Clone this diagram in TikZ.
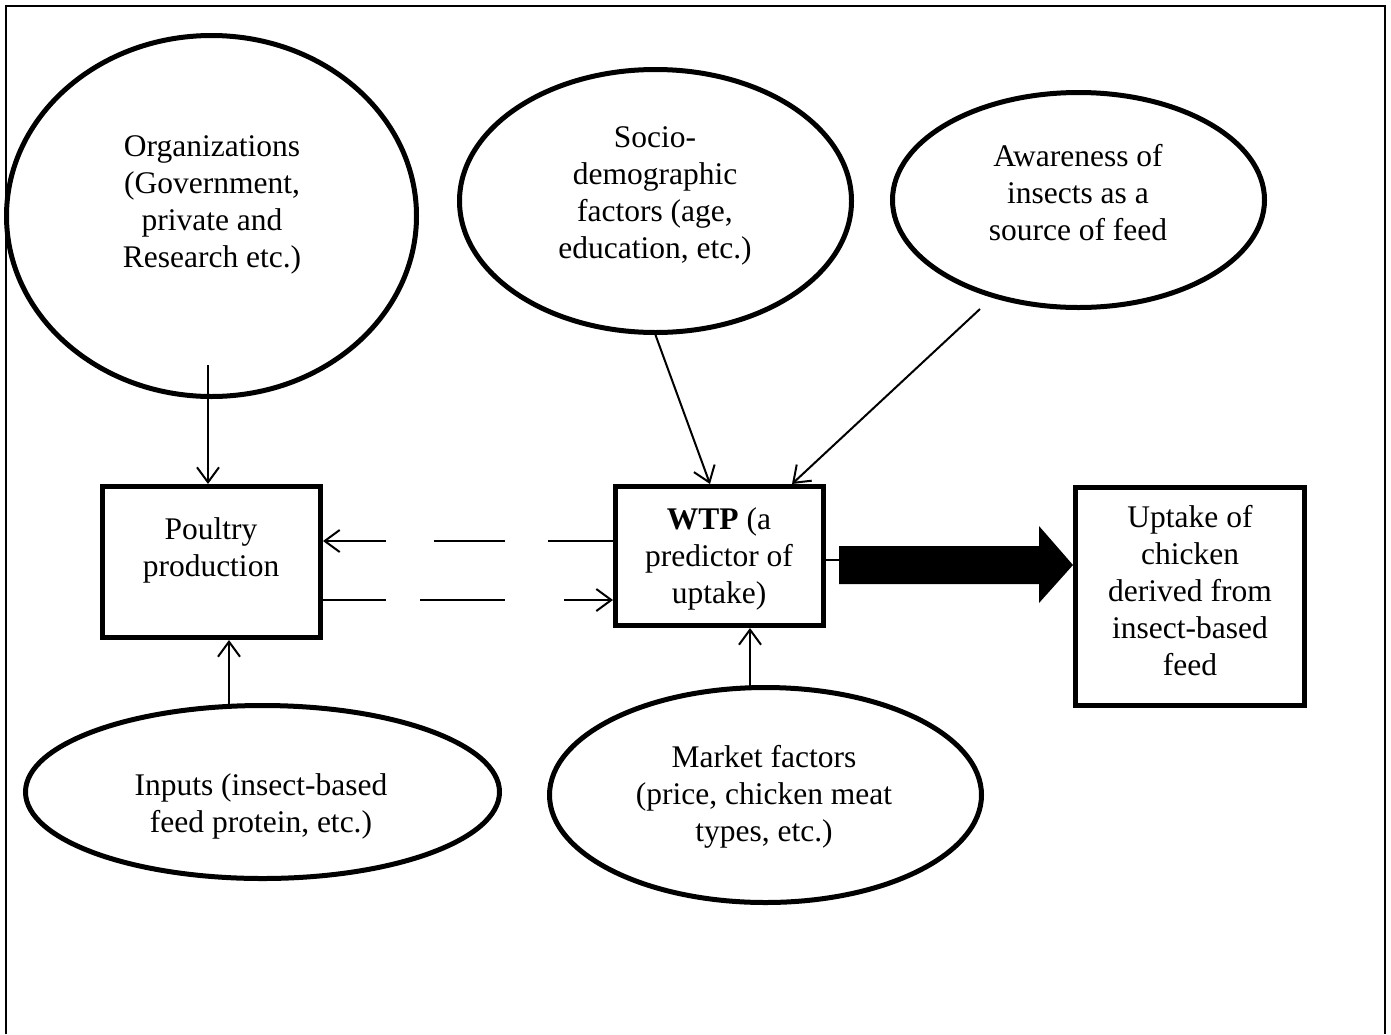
\documentclass[tikz,border=0pt]{standalone}
\usepackage{fontspec}
\setmainfont{Liberation Serif}
\usetikzlibrary{shapes.geometric,arrows.meta}
\begin{document}
\begin{tikzpicture}[x=1pt,y=-1pt,
  ell/.style={draw,ellipse,line width=5pt,inner sep=0pt},
  boxx/.style={draw,rectangle,line width=5pt,inner sep=0pt},
  txt/.style={align=center,inner sep=0pt,font=\fontsize{31.5}{37}\selectfont},
  conn/.style={line width=2pt,-{Straight Barb[length=15pt,width=22pt]}},
  frame/.style={line width=2.5pt}
]
\useasboundingbox (0,0) rectangle (1391,1034);
\draw[frame] (6,1034) -- (6,6) -- (1385,6) -- (1385,1034);

% shapes
\node[ell,minimum width=410pt,minimum height=361pt] (org) at (211.5,216) {};
\node[ell,minimum width=392pt,minimum height=263pt] (socio) at (655.5,201) {};
\node[ell,minimum width=372pt,minimum height=215pt] (aware) at (1078.5,200) {};
\node[ell,minimum width=474pt,minimum height=173pt] (inputs) at (262.5,792) {};
\node[ell,minimum width=432pt,minimum height=215pt] (market) at (765.5,795) {};
\node[boxx,minimum width=218pt,minimum height=151pt] (poultry) at (211.5,562) {};
\node[boxx,minimum width=208pt,minimum height=139pt] (wtp) at (719.5,556) {};
\node[boxx,minimum width=229pt,minimum height=218pt] (uptake) at (1190,596.5) {};

% texts
\node[txt] (torg) at (212,205) {Organizations\\(Government,\\private and\\Research etc.)};
\node[txt] (tsocio) at (655,196) {Socio-\\demographic\\factors (age,\\education, etc.)};
\node[txt] (taware) at (1078,193) {Awareness of\\insects as a\\source of feed};
\node[txt] (tinputs) at (261,806) {Inputs (insect-based\\feed protein, etc.)};
\node[txt] (tmarket) at (764,797) {Market factors\\(price, chicken meat\\types, etc.)};
\node[txt] (tpoultry) at (211,550) {Poultry\\production};
\node[txt] (twtp) at (719,559) {\textbf{WTP} (a\\predictor of\\uptake)};
\node[txt] (tuptake) at (1190,591) {Uptake of\\chicken\\derived from\\insect-based\\feed};

% connectors
\coordinate (orgx) at (208,365);
\draw[conn] (orgx) -- (orgx |- poultry.north);
\coordinate (inx) at (229,705);
\draw[conn] (inx) -- (inx |- poultry.south);
\coordinate (mkx) at (750,688);
\draw[conn] (mkx) -- (mkx |- wtp.south);
\draw[conn] (socio.south) -- ([xshift=-9.5pt]wtp.north);
\coordinate (awx) at (980,309);
\draw[conn] (awx) -- ([xshift=72.5pt]wtp.north);

\coordinate (du) at ([yshift=15pt]wtp.west);
\draw[conn,dash pattern=on 65pt off 43pt on 71pt off 48pt on 200pt] (du) -- (du -| poultry.east);
\coordinate (dl) at ([yshift=-38pt]poultry.east);
\draw[conn,dash pattern=on 63pt off 34pt on 85pt off 59pt on 200pt] (dl) -- (dl -| wtp.west);

% thick arrow
\draw[line width=2pt] ([yshift=-4pt]wtp.east) -- ++(14,0) coordinate (ts);
\fill (839,546) -- (1039,546) -- (1039,526) -- (uptake.west |- 0,565) -- (1039,603) -- (1039,584) -- (839,584) -- cycle;
\end{tikzpicture}
\end{document}
